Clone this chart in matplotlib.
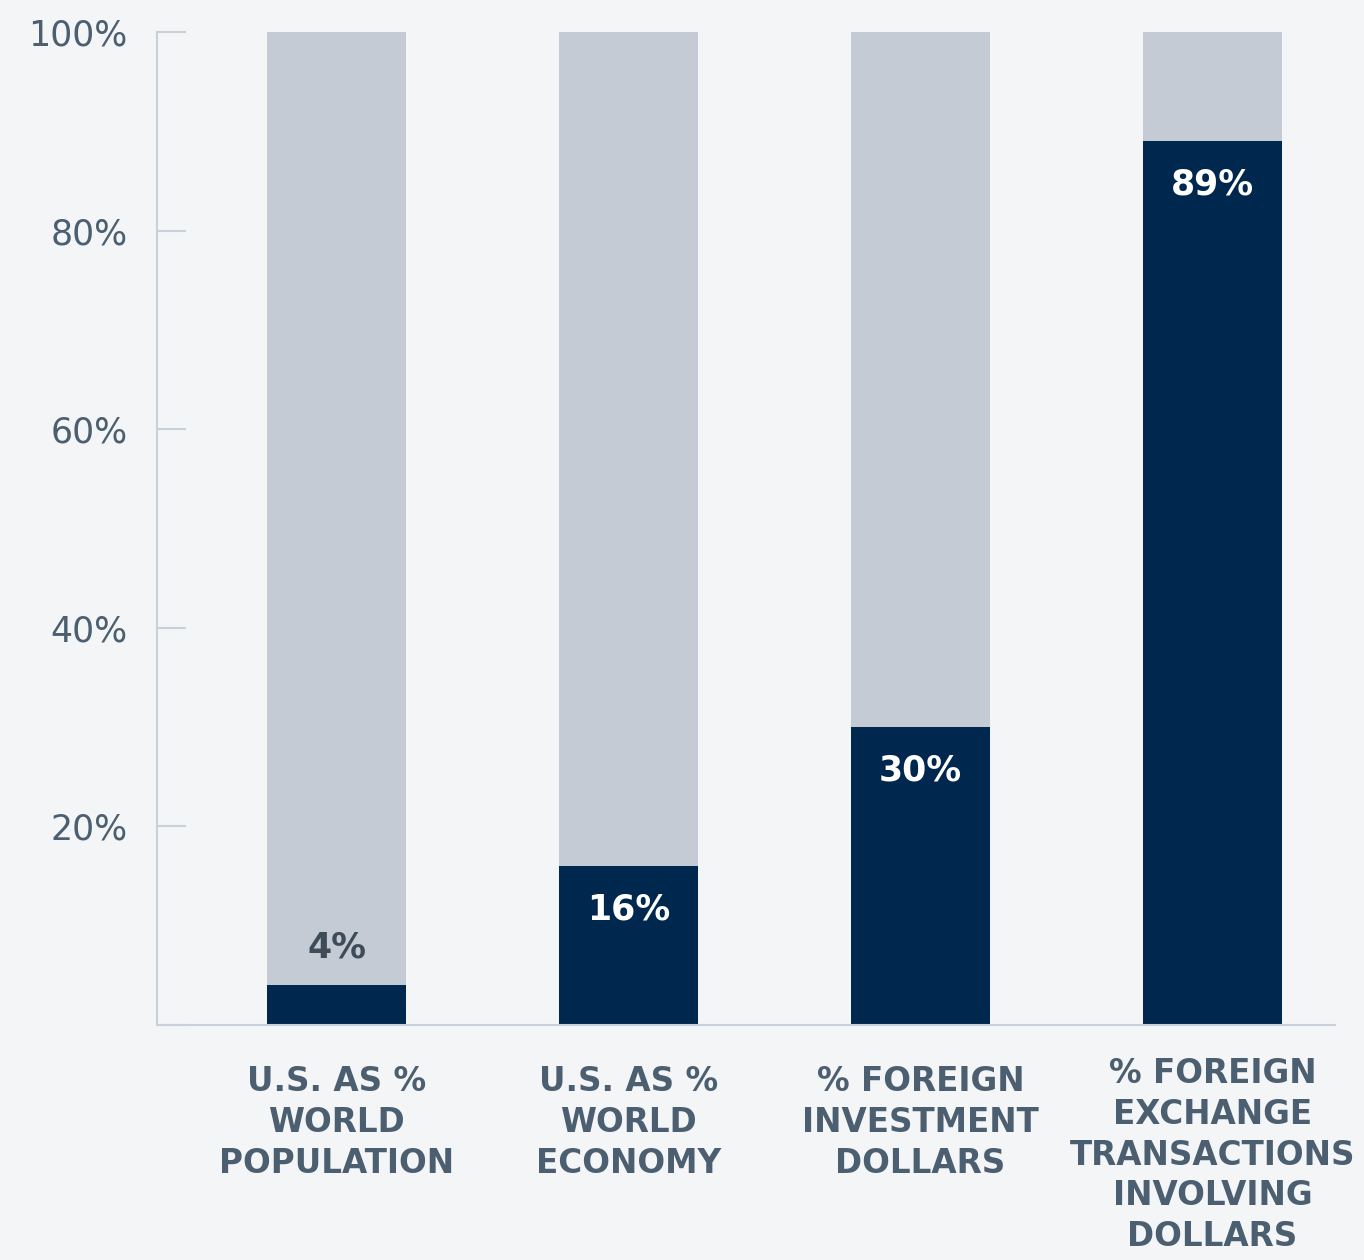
import matplotlib.pyplot as plt
import matplotlib.transforms as mtransforms
import numpy as np

# Share of world totals attributable to the U.S. / the dollar
categories = ["U.S. AS %\nWORLD\nPOPULATION",
              "U.S. AS %\nWORLD\nECONOMY",
              "% FOREIGN\nINVESTMENT\nDOLLARS",
              "% FOREIGN\nEXCHANGE\nTRANSACTIONS\nINVOLVING\nDOLLARS"]
us_share = [4, 16, 30, 89]
total = [100, 100, 100, 100]

bg = "#f4f5f7"
navy = "#00274d"
light = "#c4cbd5"
text_col = "#4b5f71"
axis_col = "#c8d0da"

plt.rcParams['font.family'] = ['DejaVu Sans']

fig = plt.figure(figsize=(13.64, 12.6), dpi=100, facecolor=bg)
ax = fig.add_axes([0.1151, 0.1865, 0.8636, 0.7881], facecolor=bg)

x = np.arange(len(categories))
rest = [t - s for t, s in zip(total, us_share)]
ax.bar(x, us_share, width=0.476, color=navy, zorder=2)
ax.bar(x, rest, bottom=us_share, width=0.476, color=light, zorder=2)

# value labels: inside the bar when it is tall enough, above it otherwise
for xi, v in zip(x, us_share):
    if v < 10:
        ax.text(xi, v + 3.8, f"{v}%", ha='center', va='center',
                fontsize=25, color="#3e4b58", fontweight='bold')
    else:
        ax.text(xi, v - 4.4, f"{v}%", ha='center', va='center',
                fontsize=25, color='white', fontweight='bold')

ax.set_xlim(-0.615, 3.42)
ax.set_ylim(0, 100)
ax.set_yticks([0, 20, 40, 60, 80, 100])
ax.set_yticklabels(["", "20%", "40%", "60%", "80%", "100%"])
ax.tick_params(axis='y', direction='in', length=21, width=1.5, color=axis_col,
               labelsize=25, labelcolor=text_col, pad=21)
ax.set_xticks(x)
ax.set_xticklabels(categories, fontsize=23.5, fontweight='bold', color=text_col,
                   linespacing=1.3)
ax.tick_params(axis='x', length=0, pad=29)
for lbl in ax.get_xticklabels():
    lbl.set_va('top')

# the five-line label sits a little higher so it fits in the figure
last = ax.get_xticklabels()[-1]
last.set_transform(last.get_transform() +
                   mtransforms.ScaledTranslation(0, 6 / 72, fig.dpi_scale_trans))

for side in ['top', 'right']:
    ax.spines[side].set_visible(False)
for side in ['left', 'bottom']:
    ax.spines[side].set_color(axis_col)
    ax.spines[side].set_linewidth(1.5)

plt.savefig('out.png', dpi=100, facecolor=bg)
